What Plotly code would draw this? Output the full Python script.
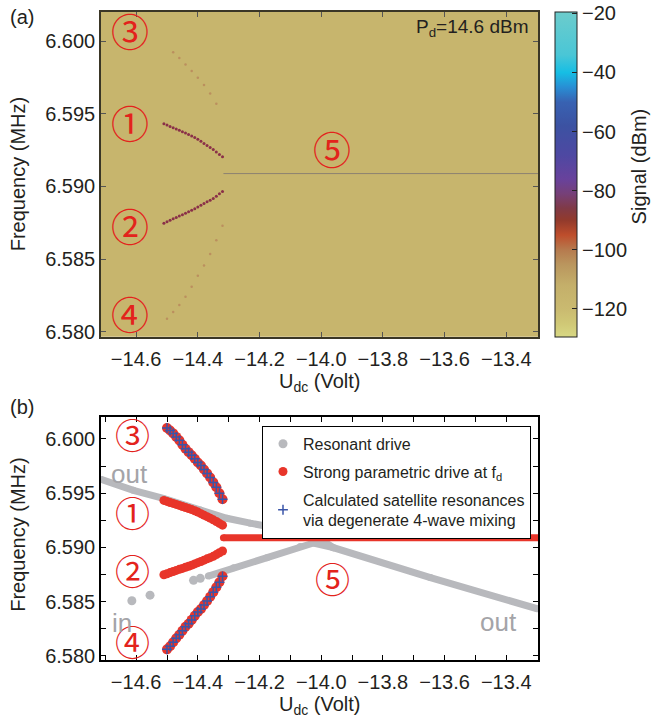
import plotly.graph_objects as go

# ---------------- data ----------------
# (a) spectrum map: background level and grid extent
BACKGROUND_DBM = -116
MAP_U = [-14.72, -13.29]
MAP_F = [6.5794, 6.6022]

# strong parametric drive branches 1 and 2 (MHz)
U_B12 = [-14.51, -14.50, -14.49, -14.48, -14.47, -14.46, -14.45, -14.44, -14.43, -14.42,
         -14.41, -14.40, -14.39, -14.38, -14.37, -14.36, -14.35, -14.34, -14.33, -14.32]
F_B1 = [6.59433, 6.59424, 6.59414, 6.59405, 6.59396, 6.59387, 6.59377, 6.59368, 6.59358, 6.59348,
        6.59338, 6.59325, 6.59311, 6.59297, 6.59283, 6.59269, 6.59254, 6.59238, 6.59221, 6.59205]
F_B2 = [6.58747, 6.58757, 6.58767, 6.58777, 6.58787, 6.58797, 6.58806, 6.58816, 6.58826, 6.58836,
        6.58847, 6.58859, 6.58870, 6.58882, 6.58894, 6.58905, 6.58917, 6.58933, 6.58950, 6.58966]
# branch 5 (single response at f_d)
U_B5 = [-14.317, -13.29]
F_B5 = [6.59089, 6.59089]

# satellite resonances 3 and 4
U_SAT = [-14.50, -14.49, -14.48, -14.47, -14.46, -14.45, -14.44, -14.43, -14.42, -14.41,
         -14.40, -14.39, -14.38, -14.37, -14.36, -14.35, -14.34, -14.33, -14.32]
F_SAT3 = [6.60101, 6.60078, 6.60051, 6.60019, 6.59987, 6.59946, 6.59910, 6.59878, 6.59850, 6.59818,
          6.59782, 6.59755, 6.59718, 6.59682, 6.59645, 6.59599, 6.59554, 6.59499, 6.59444]
F_SAT4 = [6.58059, 6.58087, 6.58125, 6.58162, 6.58194, 6.58231, 6.58267, 6.58295, 6.58331, 6.58368,
          6.58404, 6.58432, 6.58468, 6.58505, 6.58544, 6.58587, 6.58632, 6.58678, 6.58733]

# faint satellites visible in the measured map (a)
U_FAINT3 = [-14.48, -14.46, -14.44, -14.42, -14.40, -14.38, -14.36, -14.34]
F_FAINT3 = [6.59924, 6.59885, 6.59840, 6.59795, 6.59750, 6.59700, 6.59640, 6.59570]
U_FAINT4 = [-14.50, -14.48, -14.46, -14.44, -14.42, -14.40, -14.38, -14.36, -14.34, -14.32]
F_FAINT4 = [6.58088, 6.58135, 6.58183, 6.58240, 6.58310, 6.58385, 6.58455, 6.58535, 6.58630, 6.58730]

# resonant drive (grey)
U_RES_OUT = [-14.714, -14.609, -14.512, -14.392, -14.306, -14.230, -14.123, -14.025, -13.960, -13.646, -13.299]
F_RES_OUT = [6.59627, 6.59526, 6.59451, 6.59344, 6.59268, 6.59223, 6.59161, 6.59116, 6.58997, 6.58721, 6.58433]
U_RES_IN = [-14.366, -14.284, -14.176, -14.068, -14.025, -13.961]
F_RES_IN = [6.58735, 6.58812, 6.58903, 6.59009, 6.59040, 6.58997]
U_RES_ISO = [-14.614, -14.555, -14.414, -14.392, -13.982]
F_RES_ISO = [6.58507, 6.58559, 6.58696, 6.58714, 6.59131]

# axes
U_RANGE = [-14.714, -13.297]
F_RANGE = [6.57965, 6.60203]
CB_TICKS = [-120, -100, -80, -60, -40, -20]

# ---------------- style ----------------
FONT = "Liberation Sans, Arial, Helvetica, sans-serif"
CIRC_FONT = "Noto Sans CJK JP, DejaVu Sans"
TXT = "#231f20"
RED = "#e8352a"
GREY = "#b8b9bd"
BLUE = "#3a55a8"
CIRC_RED = "#e3231c"

ZMIN, ZMAX = -129.5, -19.5
def pos(v):
    return (v - ZMIN) / (ZMAX - ZMIN)

colorscale = [
    [0.0, "rgb(216,216,132)"],
    [pos(-125), "rgb(208,200,118)"],
    [pos(-120), "rgb(202,186,112)"],
    [pos(-112), "rgb(196,175,106)"],
    [pos(-105), "rgb(186,150,94)"],
    [pos(-100), "rgb(182,122,78)"],
    [pos(-95), "rgb(190,78,44)"],
    [pos(-90), "rgb(146,58,44)"],
    [pos(-86), "rgb(128,58,70)"],
    [pos(-81), "rgb(118,64,120)"],
    [pos(-76), "rgb(104,66,156)"],
    [pos(-68), "rgb(78,72,162)"],
    [pos(-58), "rgb(60,82,162)"],
    [pos(-50), "rgb(56,98,178)"],
    [pos(-45), "rgb(40,142,212)"],
    [pos(-40), "rgb(22,190,228)"],
    [pos(-34), "rgb(74,198,214)"],
    [1.0, "rgb(108,204,204)"],
]

fig = go.Figure()

# (a) heat map background
fig.add_trace(go.Heatmap(
    x=MAP_U, y=MAP_F, z=[[BACKGROUND_DBM] * 2] * 2,
    zmin=ZMIN, zmax=ZMAX, colorscale=colorscale, zsmooth=False,
    xaxis="x", yaxis="y", hoverinfo="skip",
    colorbar=dict(
        x=555 / 651, xanchor="left", y=1 - 12 / 724, yanchor="top",
        len=328 / 724, lenmode="fraction", thickness=22, thicknessmode="pixels",
        xpad=0, ypad=0, outlinewidth=1, outlinecolor="#222",
        tickvals=CB_TICKS, ticks="inside", ticklen=5, tickcolor="#222",
        tickfont=dict(family=FONT, size=20, color=TXT),
    ),
))

# (a) features
fig.add_trace(go.Scatter(x=U_FAINT3, y=F_FAINT3, mode="markers", xaxis="x", yaxis="y",
                         marker=dict(size=2.5, color="rgba(175,105,80,0.5)"), showlegend=False))
fig.add_trace(go.Scatter(x=U_FAINT4, y=F_FAINT4, mode="markers", xaxis="x", yaxis="y",
                         marker=dict(size=2.5, color="rgba(175,105,80,0.5)"), showlegend=False))
fig.add_trace(go.Scatter(x=U_B5, y=F_B5, mode="lines", xaxis="x", yaxis="y",
                         line=dict(color="#8c8270", width=1), showlegend=False))
for fb in (F_B1, F_B2):
    fig.add_trace(go.Scatter(x=U_B12, y=fb, mode="markers", xaxis="x", yaxis="y",
                             marker=dict(size=3, color="#8a3048"), showlegend=False))

# (b) resonant drive
fig.add_trace(go.Scatter(x=U_RES_ISO, y=F_RES_ISO, mode="markers", xaxis="x2", yaxis="y2",
                         marker=dict(size=9, color=GREY), name="Resonant drive",
                         legendgroup="g1", showlegend=True))
fig.add_trace(go.Scatter(x=U_RES_OUT, y=F_RES_OUT, mode="lines+markers", xaxis="x2", yaxis="y2",
                         line=dict(color=GREY, width=7), marker=dict(size=7, color=GREY),
                         legendgroup="g1", showlegend=False))
fig.add_trace(go.Scatter(x=U_RES_IN, y=F_RES_IN, mode="lines+markers", xaxis="x2", yaxis="y2",
                         line=dict(color=GREY, width=7), marker=dict(size=7, color=GREY),
                         legendgroup="g1", showlegend=False))

# (b) strong parametric drive
fig.add_trace(go.Scatter(x=U_B12, y=F_B1, mode="markers", xaxis="x2", yaxis="y2",
                         marker=dict(size=9, color=RED), name="Strong parametric drive at f<sub>d</sub>",
                         legendgroup="g2", showlegend=True))
fig.add_trace(go.Scatter(x=U_B12, y=F_B2, mode="markers", xaxis="x2", yaxis="y2",
                         marker=dict(size=9, color=RED), legendgroup="g2", showlegend=False))
fig.add_trace(go.Scatter(x=U_B5, y=F_B5, mode="lines+markers", xaxis="x2", yaxis="y2",
                         line=dict(color=RED, width=7), marker=dict(size=7, color=RED),
                         legendgroup="g2", showlegend=False))
for fs in (F_SAT3, F_SAT4):
    fig.add_trace(go.Scatter(x=U_SAT, y=fs, mode="markers", xaxis="x2", yaxis="y2",
                             marker=dict(size=10, color=RED), legendgroup="g2", showlegend=False))

# (b) calculated satellites
for i, fs in enumerate((F_SAT3, F_SAT4)):
    fig.add_trace(go.Scatter(
        x=U_SAT, y=fs, mode="markers", xaxis="x2", yaxis="y2",
        marker=dict(symbol="cross-thin", size=7, line=dict(color=BLUE, width=1.5)),
        name="Calculated satellite resonances<br>via degenerate 4-wave mixing",
        legendgroup="g3", showlegend=(i == 0)))

# ---------------- axes ----------------
common_x = dict(range=U_RANGE, domain=[101 / 651, 538 / 651], dtick=0.2, tick0=-14.6,
                tickformat=".1f", ticks="inside", ticklen=5, showgrid=False, zeroline=False,
                showline=True, mirror="ticks", ticklabelstandoff=4,
                tickfont=dict(family=FONT, size=20, color=TXT))
common_y = dict(range=F_RANGE, dtick=0.005, tick0=6.58, tickformat=".3f",
                ticks="inside", ticklen=5, showgrid=False, zeroline=False, showline=True,
                mirror="ticks", tickfont=dict(family=FONT, size=20, color=TXT))

fig.update_layout(
    width=651, height=724, margin=dict(l=0, r=0, t=0, b=0),
    paper_bgcolor="white", plot_bgcolor="white",
    font=dict(family=FONT, color=TXT),
    xaxis=dict(common_x, anchor="y", linecolor="#3a3626", linewidth=1.5, tickcolor="#555"),
    yaxis=dict(common_y, anchor="x", domain=[1 - 340 / 724, 1 - 12 / 724],
               linecolor="#3a3626", linewidth=1.5, tickcolor="#555"),
    xaxis2=dict(common_x, anchor="y2", linecolor="black", linewidth=1.5, tickcolor="black",
                minor=dict(dtick=0.1, ticks="inside", ticklen=5, tickcolor="black")),
    yaxis2=dict(common_y, anchor="x2", domain=[1 - 666 / 724, 1 - 421 / 724],
                linecolor="black", linewidth=1.5, tickcolor="black",
                minor=dict(dtick=0.0025, ticks="inside", ticklen=5, tickcolor="black")),
    showlegend=True,
    legend=dict(x=262 / 651, xanchor="left", y=1 - 430 / 724, yanchor="top",
                bgcolor="white", bordercolor="black", borderwidth=1,
                font=dict(family=FONT, size=16, color=TXT),
                traceorder="grouped", tracegroupgap=4),
)

ann = []
def txt(x, y, s, size=20, color=TXT, xref="paper", yref="paper", angle=0, family=FONT,
        xanchor="center", yanchor="middle"):
    ann.append(dict(x=x, y=y, xref=xref, yref=yref, text=s, showarrow=False,
                    textangle=angle, xanchor=xanchor, yanchor=yanchor,
                    font=dict(family=family, size=size, color=color)))

# panel labels and axis titles (pixel positions -> paper)
px = lambda v: v / 651
py = lambda v: 1 - v / 724
txt(px(22), py(17), "(a)")
txt(px(22), py(411), "(b)")
txt(px(18), py(176), "Frequency (MHz)", angle=-90)
txt(px(18), py(540), "Frequency (MHz)", angle=-90)
txt(px(320), py(386), "U<sub>dc</sub> (Volt)")
txt(px(320), py(712), "U<sub>dc</sub> (Volt)")
txt(px(639), py(168), "Signal (dBm)", angle=-90)
txt(px(531), py(28), "P<sub>d</sub>=14.6 dBm", size=19, xanchor="right")

# circled labels (data coordinates)
for x, y, s in [(-14.619, 6.60085, "③"), (-14.619, 6.59445, "①"), (-14.619, 6.58738, "②"),
                (-14.619, 6.58130, "④"), (-13.964, 6.59268, "⑤")]:
    txt(x, y, s, size=38, color=CIRC_RED, xref="x", yref="y", family=CIRC_FONT)
for x, y, s in [(-14.613, 6.60053, "③"), (-14.613, 6.59328, "①"), (-14.613, 6.58797, "②"),
                (-14.613, 6.58137, "④"), (-13.963, 6.58722, "⑤")]:
    txt(x, y, s, size=35, color=CIRC_RED, xref="x2", yref="y2", family=CIRC_FONT)

txt(-14.623, 6.59672, "out", size=26, color="#a4a4a8", xref="x2", yref="y2")
txt(-14.646, 6.58306, "in", size=26, color="#a4a4a8", xref="x2", yref="y2")
txt(-13.425, 6.58313, "out", size=26, color="#a4a4a8", xref="x2", yref="y2")

fig.update_layout(annotations=ann)
fig.write_html("out.html", config={"displayModeBar": False},
               post_script="document.body.style.margin='0px';")
